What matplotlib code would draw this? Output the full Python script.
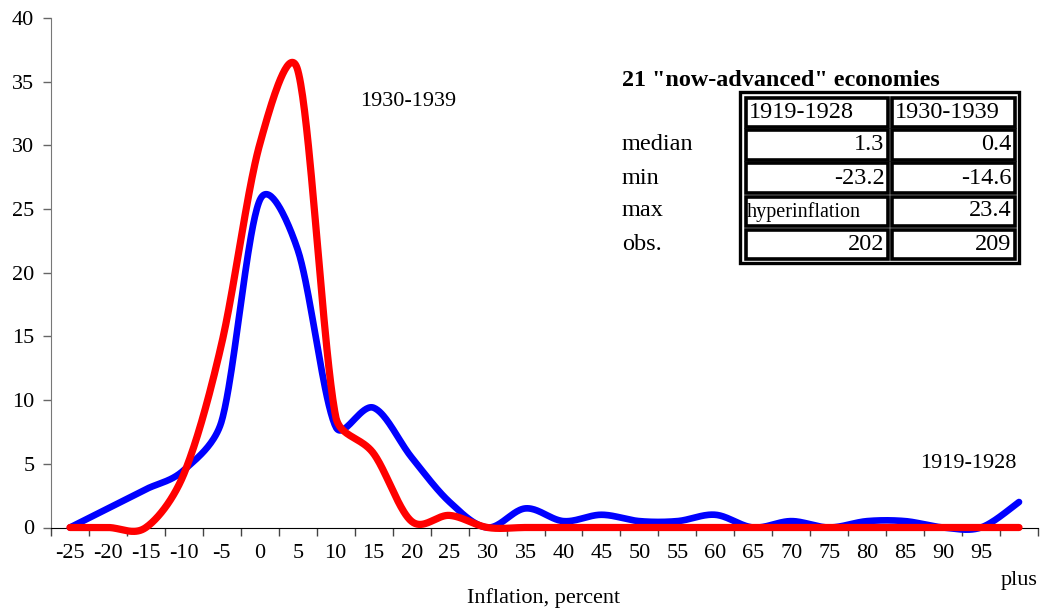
import numpy as np
import matplotlib
matplotlib.use("Agg")
import matplotlib.pyplot as plt
from matplotlib.patches import Rectangle

plt.rcParams['font.family'] = ['Liberation Serif', 'DejaVu Serif']

# inflation bins (percent)
categories = ['-25', '-20', '-15', '-10', '-5', '0', '5', '10', '15', '20', '25', '30', '35',
              '40', '45', '50', '55', '60', '65', '70', '75', '80', '85', '90', '95', 'plus']
# share of observations (%)
share_1919_1928 = [0, 1.5, 3.0, 4.5, 8.4, 25.7, 21.8, 7.9, 9.4, 5.5, 2.0, 0, 1.5,
                   0.5, 1.0, 0.5, 0.5, 1.0, 0, 0.5, 0, 0.5, 0.5, 0, 0, 2.0]
share_1930_1939 = [0, 0, 0, 4.2, 14.5, 30.1, 35.9, 8.7, 5.8, 0.48, 0.95, 0, 0,
                   0, 0, 0, 0, 0, 0, 0, 0, 0, 0, 0, 0, 0]

table_cols = ['1919-1928', '1930-1939']
table_rows = ['median', 'min', 'max', 'obs.']
table_vals = [['1.3', '0.4'], ['-23.2', '-14.6'], ['hyperinflation', '23.4'], ['202', '209']]

W, H = 1042, 613


def smooth(ax, y, n=40, cap=0.4):
    # smoothed line like excel: bezier pieces in screen space, arms = 1/6 of the
    # neighbour chord, but never longer than a share of the segment they point into
    y = np.asarray(y, float)
    x = np.arange(len(y), dtype=float)
    P = ax.transData.transform(np.column_stack([x, y]))
    m = len(P)
    fwd, bwd = [], []
    for i in range(m):
        a = P[max(i - 1, 0)]
        b = P[min(i + 1, m - 1)]
        t = (b - a) / 6
        lt = np.hypot(*t)
        dp = np.hypot(*(P[i] - a))
        dn = np.hypot(*(b - P[i]))
        sf = min(1.0, cap * dn / lt) if lt > 0 else 0
        sb = min(1.0, cap * dp / lt) if lt > 0 else 0
        fwd.append(P[i] + t * sf)
        bwd.append(P[i] - t * sb)
    tt = np.linspace(0, 1, n)[:, None]
    pts = []
    for i in range(m - 1):
        p0, p1, p2, p3 = P[i], fwd[i], bwd[i + 1], P[i + 1]
        seg = ((1 - tt) ** 3 * p0 + 3 * (1 - tt) ** 2 * tt * p1
               + 3 * (1 - tt) * tt ** 2 * p2 + tt ** 3 * p3)
        pts.append(seg)
    pts = ax.transData.inverted().transform(np.concatenate(pts))
    return pts[:, 0], pts[:, 1]


def fx(px):
    return px / W


def fy(py):
    return 1 - py / H


fig = plt.figure(figsize=(W / 100, H / 100), dpi=100)
ax = fig.add_axes([fx(51), fy(527.5), fx(1038) - fx(51), fy(18) - fy(527.5)])

n = len(categories)
ax.set_xlim(-0.5, n - 0.5)
ax.set_ylim(0, 40)

bx, by = smooth(ax, share_1919_1928)
rx, ry = smooth(ax, share_1930_1939)
ax.plot(bx, by, color='#0000FF', lw=4.8, solid_capstyle='round', zorder=3, clip_on=False)
ax.plot(rx, ry, color='#FF0000', lw=5.2, solid_capstyle='round', zorder=4, clip_on=False)

ax.set_yticks(np.arange(0, 41, 5))
ax.set_xticks(np.arange(-0.5, n, 1.0))
ax.set_xticklabels([])
ax.set_xticks(np.arange(n - 1), minor=True)
ax.set_xticklabels(categories[:-1], minor=True)
ax.tick_params(axis='x', which='major', direction='out', length=6, width=1, color='#444')
ax.tick_params(axis='x', which='minor', length=0, pad=12, labelsize=16)
ax.tick_params(axis='y', direction='out', length=6, width=1, color='#666', pad=6, labelsize=16)
for s in ['top', 'right']:
    ax.spines[s].set_visible(False)
ax.spines['left'].set_color('#777')
ax.spines['bottom'].set_color('black')

ax.text(n - 1, -4.2, categories[-1], ha='center', va='center', fontsize=16, clip_on=False)

fig.text(fx(544), fy(598), 'Inflation, percent', ha='center', va='center', fontsize=16)
fig.text(fx(408), fy(101), '1930-1939', ha='center', va='center', fontsize=16)
fig.text(fx(968), fy(463), '1919-1928', ha='center', va='center', fontsize=16)

# summary table
fig.text(fx(622), fy(80), '21 "now-advanced" economies', ha='left', va='center',
         fontsize=17.4, fontweight='bold')
fig.patches.append(Rectangle((fx(740), fy(263)), fx(1019) - fx(740), fy(91.5) - fy(263),
                             transform=fig.transFigure, fill=False, ec='black', lw=2.4))
col_x = [(745.5, 887.5), (892, 1014.5)]
row_top0, pitch, rh = 97.5, 33.0, 29.0
cells = [table_cols] + table_vals
for r, vals in enumerate(cells):
    top = row_top0 + r * pitch
    yc = top + rh / 2
    for c, v in enumerate(vals):
        x0, x1 = col_x[c]
        fig.patches.append(Rectangle((fx(x0), fy(top + rh)), fx(x1) - fx(x0), fy(top) - fy(top + rh),
                                     transform=fig.transFigure, fill=False, ec='black', lw=2.6))
        if r == 0:
            fig.text(fx(x0 + 3), fy(yc), v, ha='left', va='center', fontsize=17.5)
        elif v == 'hyperinflation':
            fig.text(fx(x0 + 1), fy(yc + 1), v, ha='left', va='center', fontsize=14.5)
        else:
            fig.text(fx(x1 - 3), fy(yc), v, ha='right', va='center', fontsize=17.5)
    if r > 0:
        fig.text(fx(622), fy(yc), table_rows[r - 1], ha='left', va='center', fontsize=17.5)

fig.savefig('out.png', dpi=100)
